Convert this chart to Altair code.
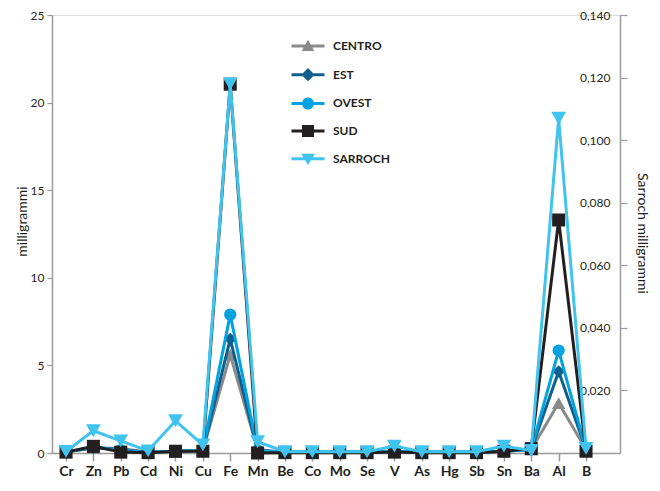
import altair as alt
import pandas as pd

categories = ["Cr", "Zn", "Pb", "Cd", "Ni", "Cu", "Fe", "Mn", "Be", "Co",
              "Mo", "Se", "V", "As", "Hg", "Sb", "Sn", "Ba", "Al", "B"]

centro = [0.05, 0.30, 0.25, 0.05, 0.05, 0.15, 5.6, 0.20, 0.05, 0.05,
          0.05, 0.05, 0.05, 0.05, 0.05, 0.05, 0.10, 0.20, 2.85, 0.20]
est = [0.05, 0.30, 0.20, 0.05, 0.10, 0.15, 6.5, 0.15, 0.05, 0.05,
       0.05, 0.05, 0.10, 0.05, 0.05, 0.05, 0.10, 0.20, 4.65, 0.20]
ovest = [0.05, 0.35, 0.15, 0.05, 0.10, 0.15, 7.9, 0.15, 0.05, 0.05,
         0.05, 0.05, 0.10, 0.05, 0.05, 0.05, 0.10, 0.20, 5.85, 0.20]
sud = [0.05, 0.38, 0.05, 0.02, 0.10, 0.10, 21.05, 0.00, 0.02, 0.02,
       0.02, 0.02, 0.05, 0.02, 0.02, 0.02, 0.10, 0.25, 13.3, 0.10]
sarroch = [0.0005, 0.0071, 0.0039, 0.0007, 0.0103, 0.0026, 0.118, 0.0036, 0.0004, 0.0004,
           0.0004, 0.0004, 0.0022, 0.0004, 0.0004, 0.0004, 0.0022, 0.0008, 0.107, 0.0015]

series_names = ["CENTRO", "EST", "OVEST", "SUD", "SARROCH"]
series_values = [centro, est, ovest, sud, sarroch]
series_colors = ["#8a8a8a", "#0e5f8b", "#00a3e0", "#231f20", "#41c3f0"]
series_shapes = ["triangle-up", "diamond", "circle", "square", "triangle-down"]
marker_sizes = [180, 160, 150, 170, 220]

left_ticks = [0, 5, 10, 15, 20, 25]
right_ticks = [0.02, 0.04, 0.06, 0.08, 0.10, 0.12, 0.14]

# legend symbols: short line + marker (custom SVG paths in unit coordinates)
line_part = "M-2.75,-0.25H2.75V0.25H-2.75Z "
legend_paths = [
    line_part + "M0,-1.05L1.05,0.85L-1.05,0.85Z",
    line_part + "M0,-1.1L1.1,0L0,1.1L-1.1,0Z",
    line_part + "M-1,0A1,1 0 1,1 1,0A1,1 0 1,1 -1,0Z",
    line_part + "M-1,-1H1V1H-1Z",
    line_part + "M-1.15,-0.85L1.15,-0.85L0,1.05Z",
]

rows = []
for name, vals in zip(series_names, series_values):
    for i, (c, v) in enumerate(zip(categories, vals)):
        rows.append({"cat": c, "series": name, "value": v, "order": i})
df = pd.DataFrame(rows)

FONT = "Lato"
TXT = "#231f20"
AX = "#9a9a9a"

x_enc = alt.X(
    "cat:N", sort=categories,
    scale=alt.Scale(type="point", padding=0.877, align=0.292),
    axis=alt.Axis(title=None, labelFont=FONT, labelFontWeight="bold", labelFontSize=14,
                  labelColor=TXT, labelAngle=0, tickColor=AX, domainColor=AX,
                  tickSize=8, tickWidth=1.5, domainWidth=1.5, labelPadding=3, grid=False),
)

left_axis = alt.Axis(values=left_ticks, title="milligrammi", titleFont=FONT, titleFontSize=14,
                     titleFontWeight="normal", titleColor=TXT, titleX=-30, titleY=206,
                     titleBaseline="middle", labelFont=FONT, labelFontSize=12, labelColor=TXT,
                     tickColor=AX, domainColor=AX, tickSize=5, tickWidth=1.2, domainWidth=1.5,
                     labelPadding=3, grid=False, orient="left")
right_axis = alt.Axis(values=right_ticks, title="Sarroch milligrammi", titleFont=FONT, titleFontSize=14,
                      titleFontWeight="normal", titleColor=TXT, titleX=21, titleY=218,
                      titleBaseline="middle", labelFont=FONT, labelFontSize=12, labelColor=TXT,
                      labelAlign="right", labelPadding=-17, tickColor=AX, domainColor=AX,
                      tickSize=7, tickWidth=1.2, domainWidth=1.5, grid=False, orient="right",
                      labelExpr="replace(format(datum.value, '.3f'), '.', ',')")

left_scale = alt.Scale(domain=[0, 25], nice=False)
right_scale = alt.Scale(domain=[0, 0.14], nice=False)


def series_layers(idx, scale, axis):
    name = series_names[idx]
    base = alt.Chart(df).transform_filter(alt.datum.series == name)
    y_enc = alt.Y("value:Q", scale=scale, axis=axis)
    line = base.mark_line(color=series_colors[idx], strokeWidth=3).encode(
        x=x_enc, y=y_enc, order=alt.Order("order:Q"))
    pts = base.mark_point(shape=series_shapes[idx], filled=True, opacity=1,
                          size=marker_sizes[idx], color=series_colors[idx]).encode(x=x_enc, y=y_enc)
    return [line, pts]


legend_def = alt.Legend(title=None, orient="none", legendX=250, legendY=25, padding=0,
                        labelFont=FONT, labelFontWeight="bold", labelFontSize=12, labelColor=TXT,
                        symbolSize=144, symbolStrokeWidth=0, symbolOpacity=1,
                        labelOffset=19, rowPadding=15.7)
legend_layer = alt.Chart(pd.DataFrame({"series": series_names})).transform_filter("false").mark_point(
    filled=True, opacity=1).encode(
    color=alt.Color("series:N", scale=alt.Scale(domain=series_names, range=series_colors), legend=legend_def),
    shape=alt.Shape("series:N", scale=alt.Scale(domain=series_names, range=legend_paths), legend=legend_def),
)

left_layers = []
for i in range(4):
    left_layers += series_layers(i, left_scale, left_axis)
left = alt.layer(*left_layers, legend_layer)
right = alt.layer(*series_layers(4, right_scale, right_axis))

chart = alt.layer(left, right).resolve_scale(y="independent").properties(
    width=568, height=438,
    autosize=alt.AutoSizeParams(type="none"),
    padding={"left": 44, "top": 7, "right": 32, "bottom": 30},
).configure_view(stroke=None).configure(background="white")

chart.save("out.html", embed_options={"renderer": "svg", "actions": False})
